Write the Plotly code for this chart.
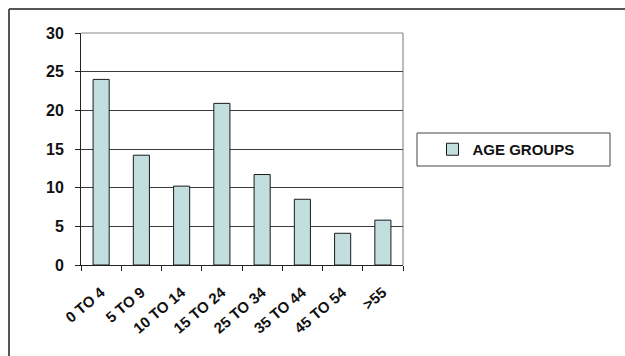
import plotly.graph_objects as go

# Age-group distribution
categories = ["0 TO 4", "5 TO 9", "10 TO 14", "15 TO 24", "25 TO 34", "35 TO 44", "45 TO 54", ">55"]
values = [24.0, 14.2, 10.2, 20.9, 11.7, 8.5, 4.1, 5.8]
y_ticks = [0, 5, 10, 15, 20, 25, 30]
series_name = "AGE GROUPS"

W, H = 625, 356
L, R, T, B = 81, 222, 33, 91
PW, PH = W - L - R, H - T - B


def px_x(x):
    return (x - L) / PW


def px_y(y):
    return (H - B - y) / PH


FAMILY = "Liberation Sans, Arial, sans-serif"


def bold(size):
    return dict(family=FAMILY, size=size, color="#111111", weight="bold")


fig = go.Figure(
    go.Bar(
        x=categories,
        y=values,
        name=series_name,
        width=0.4,
        marker=dict(color="#c2dede", line=dict(color="#1a1a1a", width=1)),
        showlegend=True,
    )
)

fig.update_layout(
    width=W,
    height=H,
    margin=dict(l=L, r=R, t=T, b=B),
    paper_bgcolor="white",
    plot_bgcolor="white",
    font=bold(14),
    showlegend=True,
    legend=dict(
        x=px_x(506),
        y=px_y(149.5),
        xanchor="center",
        yanchor="middle",
        bgcolor="rgba(0,0,0,0)",
        borderwidth=0,
        font=bold(15),
        itemwidth=30,
    ),
    xaxis=dict(
        type="category",
        tickangle=-40,
        ticks="outside",
        tickson="boundaries",
        ticklen=5,
        tickcolor="#222222",
        showline=True,
        linecolor="#222222",
        linewidth=1,
        showgrid=False,
        tickfont=bold(15),
        ticklabelstandoff=12,
    ),
    yaxis=dict(
        range=[0, 30],
        tickvals=y_ticks,
        ticks="outside",
        ticklen=5,
        tickcolor="#222222",
        showline=True,
        linecolor="#222222",
        linewidth=1,
        showgrid=True,
        gridcolor="#3a3a3a",
        gridwidth=1,
        zeroline=False,
        tickfont=bold(16),
        ticklabelstandoff=8,
    ),
    shapes=[
        # right and top edges of the plot area
        dict(type="line", xref="paper", yref="paper", x0=1, x1=1, y0=0, y1=1,
             line=dict(color="#777777", width=1)),
        dict(type="line", xref="paper", yref="paper", x0=0, x1=1, y0=1, y1=1,
             line=dict(color="#888888", width=1)),
        # outer chart frame
        dict(type="line", xref="paper", yref="paper", x0=px_x(9), x1=px_x(626), y0=px_y(9), y1=px_y(9),
             line=dict(color="#555555", width=2)),
        dict(type="line", xref="paper", yref="paper", x0=px_x(9), x1=px_x(9), y0=px_y(9), y1=px_y(360),
             line=dict(color="#555555", width=2)),
        # legend box
        dict(type="rect", xref="paper", yref="paper", x0=px_x(417), x1=px_x(610), y0=px_y(133), y1=px_y(166),
             line=dict(color="#444444", width=1), fillcolor="rgba(0,0,0,0)"),
    ],
)

fig.write_html("out.html")
